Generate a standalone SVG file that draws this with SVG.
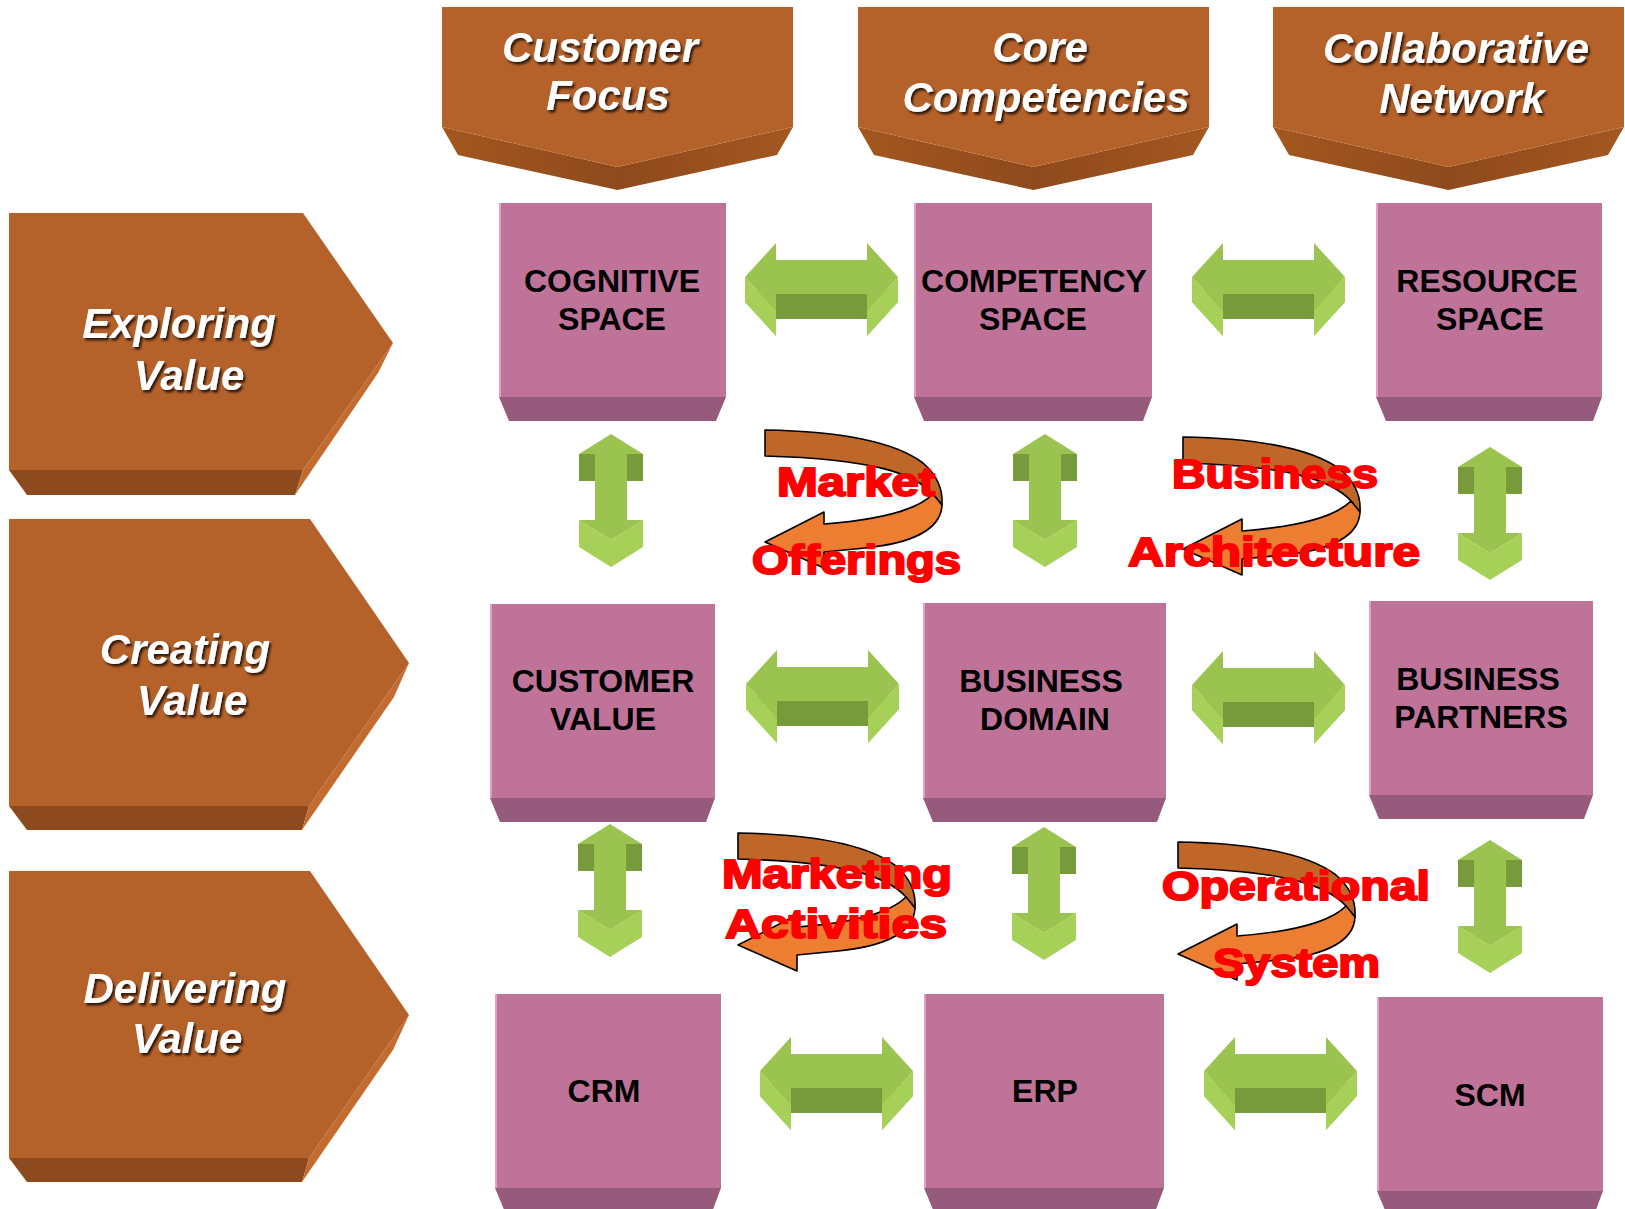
<svg xmlns="http://www.w3.org/2000/svg" xmlns:xlink="http://www.w3.org/1999/xlink" width="1625" height="1209" viewBox="0 0 1625 1209">
  <defs>
    <style>
      .face{fill:#B5612A}
      .side{fill:#C46C2F}
      .under{fill:#8C4A1E}
      .band{fill:url(#bandGrad)}
      .title{font-family:"Liberation Sans",Arial,sans-serif;font-weight:bold;font-style:italic;font-size:42px;fill:#FFFFFF;text-anchor:middle;filter:url(#txtShadow)}
      .box{fill:#C07399}
      .boxedge{stroke:#E3A0C4;stroke-width:2}
      .boxband{fill:#965A7C}
      .boxtxt{font-family:"Liberation Sans",Arial,sans-serif;font-weight:bold;font-size:32px;fill:#000000;text-anchor:middle}
      .gFront{fill:#9BC34F}
      .gDark{fill:#779A3B}
      .gSide{fill:#A6D057}
      .uBack{fill:#BF6629;stroke:#000;stroke-width:1.6;stroke-linejoin:round}
      .uFront{fill:#ED7D31;stroke:#000;stroke-width:1.6;stroke-linejoin:round}
      .red{font-family:"Liberation Sans",Arial,sans-serif;font-weight:bold;font-size:40px;fill:#FF0000;stroke:#FF0000;stroke-width:2;stroke-linejoin:round}
    </style>
    <linearGradient id="bandGrad" x1="0" y1="0" x2="1" y2="0">
      <stop offset="0" stop-color="#A4571F"/>
      <stop offset="0.5" stop-color="#8E4A1D"/>
      <stop offset="1" stop-color="#A4571F"/>
    </linearGradient>
    <filter id="txtShadow" x="-10%" y="-20%" width="120%" height="150%">
      <feDropShadow dx="2" dy="2.5" stdDeviation="1.3" flood-color="#000000" flood-opacity="0.75"/>
    </filter>

    <!-- header banner pointing down, 351 wide -->
    <g id="banner">
      <polygon class="band" points="0,127 16,155 175.5,190 335,155 351,127 175.5,167"/>
      <polygon class="face" points="0,7 351,7 351,127 175.5,167 0,127"/>
    </g>

    <!-- horizontal 3D double arrow, origin at left tip -->
    <g id="hArrow">
      <polygon class="gSide" points="0,0 31,34 31,59 0,25"/>
      <polygon class="gSide" points="153,0 122,34 122,59 153,25"/>
      <polygon class="gSide" points="0,25 31,-9 31,59"/>
      <polygon class="gSide" points="153,25 122,-9 122,59"/>
      <rect class="gDark" x="31" y="17" width="91" height="25"/>
      <polygon class="gFront" points="0,0 31,-34 31,-17 122,-17 122,-34 153,0 122,34 122,17 31,17 31,34"/>
    </g>

    <!-- vertical 3D double arrow, origin at top tip -->
    <g id="vArrow">
      <rect class="gDark" x="-32" y="20" width="16" height="27"/>
      <rect class="gDark" x="16" y="20" width="16" height="27"/>
      <polygon class="gSide" points="-32,86 0,106 32,86 32,113 0,133 -32,113"/>
      <polygon class="gFront" points="0,0 32,20 16,20 16,86 32,86 0,106 -32,86 -16,86 -16,20 -32,20"/>
    </g>

    <!-- twisted U-turn arrow, origin at top-left of the band -->
    <g id="uArrow">
      <path class="uBack" d="M0,0 C60,1 125,8 158,33 C172,45 178,60 177,75 L168,64 C150,44 110,29 0,26 Z"/>
      <path class="uFront" d="M177,75 C176,98 150,113 100,118 L59,122 L59,138 L0,112 L59,82 L59,94 C110,90 150,82 168,64 Z"/>
    </g>
  </defs>

  <rect width="1625" height="1209" fill="#FFFFFF"/>

  <!-- column headers -->
  <g id="hdr-customer-focus">
    <use xlink:href="#banner" href="#banner" x="442"/>
    <text class="title" x="600" y="62">Customer</text>
    <text class="title" x="608" y="110">Focus</text>
  </g>
  <g id="hdr-core-competencies">
    <use xlink:href="#banner" href="#banner" x="858"/>
    <text class="title" x="1040" y="62">Core</text>
    <text class="title" x="1046" y="112">Competencies</text>
  </g>
  <g id="hdr-collaborative-network">
    <use xlink:href="#banner" href="#banner" x="1273"/>
    <text class="title" x="1456" y="63">Collaborative</text>
    <text class="title" x="1462" y="113">Network</text>
  </g>

  <!-- row headers -->
  <g id="row-exploring">
    <polygon class="under" points="9,470 27,495 295,495 303,470"/>
    <polygon class="side" points="393,343 378,373 295,495 303,470"/>
    <polygon class="face" points="9,213 303,213 393,343 303,470 9,470"/>
    <text class="title" x="179" y="338">Exploring</text>
    <text class="title" x="189" y="390">Value</text>
  </g>
  <g id="row-creating">
    <polygon class="under" points="9,806 27,830 302,830 309,806"/>
    <polygon class="side" points="409,663 394,697 302,830 309,806"/>
    <polygon class="face" points="9,519 310,519 409,663 309,806 9,806"/>
    <text class="title" x="185" y="664">Creating</text>
    <text class="title" x="192" y="715">Value</text>
  </g>
  <g id="row-delivering">
    <polygon class="under" points="9,1158 27,1182 302,1182 309,1158"/>
    <polygon class="side" points="409,1015 393,1050 302,1182 309,1158"/>
    <polygon class="face" points="9,871 310,871 409,1015 309,1158 9,1158"/>
    <text class="title" x="185" y="1003">Delivering</text>
    <text class="title" x="187" y="1053">Value</text>
  </g>

  <!-- connectors -->
  <g id="connectors">
    <use xlink:href="#hArrow" href="#hArrow" x="745" y="277"/>
    <use xlink:href="#hArrow" href="#hArrow" x="1192" y="277"/>
    <use xlink:href="#hArrow" href="#hArrow" x="746" y="684"/>
    <use xlink:href="#hArrow" href="#hArrow" x="1192" y="685"/>
    <use xlink:href="#hArrow" href="#hArrow" x="760" y="1071"/>
    <use xlink:href="#hArrow" href="#hArrow" x="1204" y="1071"/>

    <use xlink:href="#vArrow" href="#vArrow" x="611" y="434"/>
    <use xlink:href="#vArrow" href="#vArrow" x="1045" y="434"/>
    <use xlink:href="#vArrow" href="#vArrow" x="1490" y="447"/>
    <use xlink:href="#vArrow" href="#vArrow" x="610" y="824"/>
    <use xlink:href="#vArrow" href="#vArrow" x="1044" y="827"/>
    <use xlink:href="#vArrow" href="#vArrow" x="1490" y="840"/>

    <use xlink:href="#uArrow" href="#uArrow" x="765" y="430"/>
    <use xlink:href="#uArrow" href="#uArrow" x="1183" y="437"/>
    <use xlink:href="#uArrow" href="#uArrow" x="738" y="833"/>
    <use xlink:href="#uArrow" href="#uArrow" x="1178" y="842"/>
  </g>

  <!-- cycle labels -->
  <g id="connector-labels">
    <text class="red" x="777" y="496" textLength="158" lengthAdjust="spacingAndGlyphs">Market</text>
    <text class="red" x="752" y="574" textLength="209" lengthAdjust="spacingAndGlyphs">Offerings</text>
    <text class="red" x="1172" y="488" textLength="206" lengthAdjust="spacingAndGlyphs">Business</text>
    <text class="red" x="1128" y="566" textLength="292" lengthAdjust="spacingAndGlyphs">Architecture</text>
    <text class="red" x="722" y="888" textLength="230" lengthAdjust="spacingAndGlyphs">Marketing</text>
    <text class="red" x="725" y="938" textLength="222" lengthAdjust="spacingAndGlyphs">Activities</text>
    <text class="red" x="1162" y="900" textLength="268" lengthAdjust="spacingAndGlyphs">Operational</text>
    <text class="red" x="1213" y="977" textLength="167" lengthAdjust="spacingAndGlyphs">System</text>
  </g>

  <!-- space blocks -->
  <g id="cognitive-space">
    <polygon class="boxband" points="499,397 726,397 716,421 509,421"/>
    <rect class="box" x="499" y="203" width="227" height="194"/>
    <line class="boxedge" x1="500" y1="203" x2="500" y2="397"/>
    <text class="boxtxt" x="612" y="292">COGNITIVE</text>
    <text class="boxtxt" x="612" y="330">SPACE</text>
  </g>
  <g id="competency-space">
    <polygon class="boxband" points="914,397 1152,397 1143,421 924,421"/>
    <rect class="box" x="914" y="203" width="238" height="194"/>
    <line class="boxedge" x1="915" y1="203" x2="915" y2="397"/>
    <text class="boxtxt" x="1034" y="292">COMPETENCY</text>
    <text class="boxtxt" x="1033" y="330">SPACE</text>
  </g>
  <g id="resource-space">
    <polygon class="boxband" points="1376,397 1602,397 1593,421 1386,421"/>
    <rect class="box" x="1376" y="203" width="226" height="194"/>
    <line class="boxedge" x1="1377" y1="203" x2="1377" y2="397"/>
    <text class="boxtxt" x="1487" y="292">RESOURCE</text>
    <text class="boxtxt" x="1490" y="330">SPACE</text>
  </g>

  <g id="customer-value">
    <polygon class="boxband" points="490,798 715,798 706,822 500,822"/>
    <rect class="box" x="490" y="604" width="225" height="194"/>
    <line class="boxedge" x1="491" y1="604" x2="491" y2="798"/>
    <text class="boxtxt" x="603" y="692">CUSTOMER</text>
    <text class="boxtxt" x="603" y="730">VALUE</text>
  </g>
  <g id="business-domain">
    <polygon class="boxband" points="923,798 1166,798 1157,822 933,822"/>
    <rect class="box" x="923" y="603" width="243" height="195"/>
    <line class="boxedge" x1="924" y1="603" x2="924" y2="798"/>
    <text class="boxtxt" x="1041" y="692">BUSINESS</text>
    <text class="boxtxt" x="1045" y="730">DOMAIN</text>
  </g>
  <g id="business-partners">
    <polygon class="boxband" points="1369,795 1593,795 1584,819 1379,819"/>
    <rect class="box" x="1369" y="601" width="224" height="194"/>
    <line class="boxedge" x1="1370" y1="601" x2="1370" y2="795"/>
    <text class="boxtxt" x="1478" y="690">BUSINESS</text>
    <text class="boxtxt" x="1481" y="728">PARTNERS</text>
  </g>

  <g id="crm">
    <polygon class="boxband" points="495,1188 721,1188 712,1212 505,1212"/>
    <rect class="box" x="495" y="994" width="226" height="194"/>
    <line class="boxedge" x1="496" y1="994" x2="496" y2="1188"/>
    <text class="boxtxt" x="604" y="1102">CRM</text>
  </g>
  <g id="erp">
    <polygon class="boxband" points="924,1188 1164,1188 1155,1212 934,1212"/>
    <rect class="box" x="924" y="994" width="240" height="194"/>
    <line class="boxedge" x1="925" y1="994" x2="925" y2="1188"/>
    <text class="boxtxt" x="1045" y="1102">ERP</text>
  </g>
  <g id="scm">
    <polygon class="boxband" points="1377,1191 1603,1191 1594,1215 1387,1215"/>
    <rect class="box" x="1377" y="997" width="226" height="194"/>
    <line class="boxedge" x1="1378" y1="997" x2="1378" y2="1191"/>
    <text class="boxtxt" x="1490" y="1106">SCM</text>
  </g>
</svg>
